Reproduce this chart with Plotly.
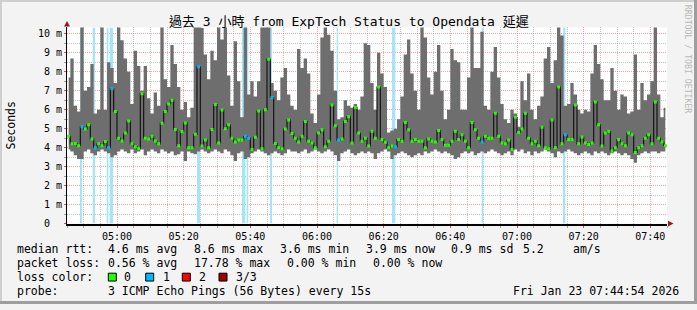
import plotly.graph_objects as go
import pandas as pd

# ---------------- data ----------------
start_time = "2026-01-23 04:45:00"
end_time = "2026-01-23 07:45:00"

# per-minute smoke extent (ms) and median rtt (ms), 04:45 .. 07:44
rtt_max = [
    7.7, 8.7, 6.2, 5.9, 11.0, 7.0, 7.2, 8.4, 5.8, 6.0,
    11.0, 6.0, 8.5, 8.2, 7.4, 11.0, 9.65, 8.7, 8.0, 6.3,
    9.1, 8.3, 7.0, 8.3, 6.6, 5.8, 6.9, 6.2, 11.0, 7.6,
    7.2, 9.4, 8.4, 7.2, 6.0, 6.4, 5.6, 6.1, 11.0, 11.0,
    10.3, 8.9, 7.6, 9.1, 8.6, 11.0, 9.7, 11.0, 7.8, 6.2,
    9.6, 7.5, 5.6, 11.0, 6.8, 7.5, 6.7, 7.5, 11.0, 11.0,
    11.0, 7.4, 7.0, 6.5, 7.7, 8.2, 6.8, 6.2, 6.0, 9.2,
    8.2, 8.7, 7.9, 5.8, 5.3, 6.8, 9.8, 11.0, 9.95, 9.1,
    7.0, 5.5, 5.6, 6.5, 6.2, 6.1, 6.3, 6.0, 6.7, 9.5,
    9.4, 7.4, 6.0, 9.0, 7.9, 7.2, 4.8, 4.9, 5.0, 5.5,
    6.7, 8.9, 9.7, 7.9, 7.0, 6.0, 11.0, 9.8, 7.7, 6.8,
    8.0, 9.4, 7.0, 5.5, 6.0, 9.2, 8.6, 8.5, 6.0, 6.0,
    7.7, 11.0, 8.2, 8.2, 10.1, 6.2, 6.0, 8.0, 9.3, 7.7,
    6.3, 5.5, 5.3, 6.0, 5.8, 5.1, 7.5, 6.5, 7.9, 6.0,
    5.5, 6.2, 6.7, 8.7, 9.3, 7.4, 8.6, 11.0, 9.9, 6.2,
    6.3, 7.4, 6.8, 6.0, 5.8, 6.0, 5.9, 7.9, 9.4, 8.4,
    7.6, 6.5, 6.5, 8.2, 7.0, 6.0, 6.8, 6.7, 5.8, 5.9,
    8.9, 6.0, 7.4, 6.5, 6.8, 7.5, 11.0, 6.8, 5.6, 6.1,
]
rtt_min = [
    3.9, 3.8, 3.6, 3.4, 3.4, 3.8, 3.9, 3.7, 3.6, 3.8,
    3.9, 3.8, 3.7, 3.5, 3.6, 3.8, 3.9, 3.8, 3.7, 3.9,
    3.7, 3.8, 3.9, 3.6, 3.8, 3.9, 3.8, 3.7, 3.9, 3.8,
    3.7, 3.8, 3.6, 3.65, 3.8, 3.3, 3.8, 3.7, 3.65, 3.8,
    3.9, 3.8, 3.7, 3.8, 3.9, 3.8, 3.7, 3.9, 3.8, 3.6,
    3.3, 3.7, 3.8, 3.4, 3.5, 3.7, 3.8, 3.9, 3.8, 3.7,
    3.6, 3.7, 3.8, 3.7, 3.6, 3.7, 3.9, 3.8, 3.8, 3.7,
    3.8, 3.9, 3.7, 3.8, 3.9, 3.8, 3.7, 3.8, 3.9, 3.8,
    3.6, 3.3, 3.7, 3.8, 3.9, 3.7, 3.6, 3.7, 3.8, 3.7,
    3.8, 3.7, 3.4, 3.7, 3.8, 3.9, 3.8, 3.4, 3.6, 3.7,
    3.8, 3.7, 3.6, 3.5, 3.6, 3.7, 3.6, 3.8, 3.7, 3.8,
    3.9, 3.8, 3.7, 3.8, 3.7, 3.6, 3.4, 3.5, 3.7, 3.8,
    3.7, 3.8, 3.6, 3.7, 3.8, 3.7, 3.8, 3.9, 3.8, 3.7,
    3.6, 3.7, 3.8, 3.6, 3.9, 3.8, 3.9, 3.7, 3.8, 3.6,
    3.8, 3.7, 3.8, 3.9, 3.8, 3.7, 3.5, 3.8, 3.7, 3.8,
    3.9, 3.8, 3.7, 3.6, 3.7, 3.8, 3.7, 3.6, 3.8, 3.7,
    3.8, 3.7, 3.6, 3.7, 3.8, 3.7, 3.6, 3.7, 3.6, 3.4,
    3.2, 3.6, 3.7, 3.8, 3.7, 3.8, 3.8, 3.7, 3.8, 3.8,
]
rtt_median = [
    4.6, 4.2, 4.22, 4.1, 5.1, 4.98, 5.2, 4.46, 4.0, 4.2,
    4.1, 4.32, 4.0, 7.1, 5.9, 4.5, 4.35, 4.77, 5.4, 4.2,
    4.05, 3.95, 6.84, 4.5, 4.46, 4.6, 4.35, 4.2, 5.29, 5.9,
    6.3, 6.5, 4.95, 4.1, 4.85, 5.3, 4.0, 4.0, 4.7, 8.26,
    4.08, 4.4, 4.0, 4.95, 6.27, 4.25, 5.98, 5.0, 5.2, 4.5,
    4.3, 4.4, 4.4, 4.6, 4.5, 3.9, 4.55, 5.93, 3.94, 6.0,
    8.66, 6.64, 4.22, 4.0, 3.94, 4.98, 5.46, 4.75, 4.5, 4.3,
    4.6, 5.38, 4.34, 4.25, 4.0, 4.77, 4.94, 4.05, 4.34, 6.24,
    5.15, 4.4, 4.46, 5.38, 5.63, 4.25, 6.12, 4.77, 4.34, 4.5,
    4.08, 4.86, 4.5, 7.19, 4.43, 4.29, 4.0, 4.08, 4.05, 4.43,
    4.34, 5.32, 4.94, 4.34, 4.43, 4.34, 4.34, 4.0, 4.46, 4.34,
    4.3, 4.9, 4.43, 4.12, 4.12, 4.34, 4.86, 4.43, 4.68, 4.34,
    4.0, 5.32, 4.94, 4.5, 4.3, 4.6, 4.5, 4.5, 5.81, 4.6,
    4.25, 4.2, 4.4, 3.9, 5.6, 4.8, 4.98, 5.81, 4.5, 4.2,
    4.34, 4.1, 5.08, 4.0, 3.94, 5.46, 4.0, 7.19, 4.2, 4.68,
    4.43, 4.43, 6.24, 4.2, 4.56, 4.25, 4.17, 4.25, 6.41, 5.2,
    4.08, 4.77, 4.86, 3.82, 4.0, 4.43, 4.2, 4.1, 4.77, 4.68,
    3.75, 4.0, 4.1, 4.5, 4.68, 4.2, 6.4, 4.5, 4.3, 4.1,
]

# packet loss events: start time, duration (s), lost pings
loss_start = ["04:48:54", "04:52:42", "04:56:54", "04:57:48", "05:24:00", "05:37:30",
              "05:38:54", "05:45:54", "06:05:54", "06:22:30", "06:49:24", "07:13:48"]
loss_duration_s = [36, 42, 30, 60, 54, 60, 30, 36, 24, 60, 30, 42]
loss_count = [1, 1, 1, 1, 1, 1, 1, 1, 1, 1, 1, 1]

y_tick_values = [0, 1, 2, 3, 4, 5, 6, 7, 8, 9, 10]
y_tick_labels = ["0\u00a0\u00a0", "1 m", "2 m", "3 m", "4 m", "5 m", "6 m", "7 m", "8 m", "9 m", "10 m"]

title_text = "過去 3 小時 from ExpTech Status to Opendata 延遲"
rtt_stats = ["4.6 ms avg", "8.6 ms max", "3.6 ms min", "3.9 ms now", "0.9 ms sd", "5.2", "am/s"]
loss_stats = ["0.56 % avg", "17.78 % max", "0.00 % min", "0.00 % now"]
loss_color_labels = ["0", "1", "2", "3/3"]
probe_text = "3 ICMP Echo Pings (56 Bytes) every 15s"
stamp_text = "Fri Jan 23 07:44:54 2026"

# ---------------- styling ----------------
W, H = 697, 310
L, R, T, B = 67, 667, 28, 228
MONO = "DejaVu Sans Mono, Noto Sans CJK TC, monospace"
LOSS_COLORS = ["#26ff00", "#00b8ff", "#ff0000", "#a00000"]
LOSS_BG = {1: "#a6e4fa", 2: "#ffa6a6", 3: "#d9a6a6"}
SMOKE = "#6e6e6e"
GRID_MAJOR = "rgba(230,90,90,0.55)"
GRID_MINOR = "rgba(150,150,150,0.55)"
DASH = "1px,1px"
YMAX = 10.33


def fx(p):
    return p / W


def fy(p):
    return 1 - p / H


t0 = pd.Timestamp(start_time)
t1 = pd.Timestamp(end_time)
day = t0.strftime("%Y-%m-%d")
times = [t0 + pd.Timedelta(seconds=30 + 60 * i) for i in range(len(rtt_max))]

ev_start = [pd.Timestamp(f"{day} {s}") for s in loss_start]
ev_end = [s + pd.Timedelta(seconds=d) for s, d in zip(ev_start, loss_duration_s)]

dot_colors = [LOSS_COLORS[0]] * len(rtt_median)
for s, e, c in zip(ev_start, ev_end, loss_count):
    mid = s + (e - s) / 2
    idx = int((mid - t0).total_seconds() // 60)
    if 0 <= idx < len(dot_colors):
        dot_colors[idx] = LOSS_COLORS[c]

fig = go.Figure()

# loss background bands (drawn first, under smoke)
for s, e, c in zip(ev_start, ev_end, loss_count):
    fig.add_trace(go.Scatter(
        x=[s, e, e, s, s], y=[0, 0, YMAX, YMAX, 0], mode="lines", fill="toself",
        fillcolor=LOSS_BG[c], line=dict(width=0), hoverinfo="skip"))

fig.add_trace(go.Scatter(x=times, y=rtt_min, mode="lines",
                         line=dict(width=0, shape="hvh"), hoverinfo="skip"))
fig.add_trace(go.Scatter(x=times, y=rtt_max, mode="lines", fill="tonexty",
                         fillcolor=SMOKE, line=dict(width=0, shape="hvh"), hoverinfo="skip"))
fig.add_trace(go.Scatter(x=times, y=rtt_median, mode="lines",
                         line=dict(color="#151515", width=1.2, shape="hvh")))
fig.add_trace(go.Scatter(x=times, y=rtt_median, mode="markers",
                         marker=dict(symbol="square", size=3, color=dot_colors, line=dict(width=0))))

minor_y = [v + 0.5 for v in y_tick_values[:-1]]

fig.update_layout(
    width=W, height=H, margin=dict(l=0, r=0, t=0, b=0),
    paper_bgcolor="#f3f3f3", plot_bgcolor="#ffffff",
    showlegend=False, font=dict(family=MONO, color="#000000"),
    xaxis=dict(
        type="date", domain=[fx(L), fx(R)], range=[t0, t1], fixedrange=True,
        tick0=f"{day} 05:00", dtick=20 * 60 * 1000, tickformat="%H:%M",
        showgrid=True, gridcolor=GRID_MAJOR, griddash=DASH, gridwidth=1,
        ticks="outside", ticklen=2, tickcolor="#e05050",
        tickfont=dict(family=MONO, size=10, color="#000"),
        showline=True, linecolor="#000000", linewidth=2, zeroline=False,
        minor=dict(dtick=5 * 60 * 1000, tick0=f"{day} 05:00", showgrid=True,
                   gridcolor=GRID_MINOR, griddash=DASH, gridwidth=1,
                   ticks="outside", ticklen=2, tickcolor="#a0a0a0"),
    ),
    yaxis=dict(
        domain=[fy(B), fy(T)], range=[0, YMAX], fixedrange=True,
        tickmode="array", tickvals=y_tick_values, ticktext=y_tick_labels,
        showgrid=True, gridcolor=GRID_MAJOR, griddash=DASH, gridwidth=1,
        ticks="outside", ticklen=2, tickcolor="#e05050",
        tickfont=dict(family=MONO, size=10, color="#000"),
        showline=True, linecolor="#000000", linewidth=1, zeroline=False,
        minor=dict(tickmode="array", tickvals=minor_y, showgrid=True,
                   gridcolor=GRID_MINOR, griddash=DASH, gridwidth=1,
                   ticks="outside", ticklen=2, tickcolor="#a0a0a0"),
    ),
)

shapes = []
# frame shading
shapes.append(dict(type="rect", xref="paper", yref="paper", x0=0, x1=1, y0=fy(2), y1=1,
                   fillcolor="#cfcfcf", line=dict(width=0), layer="above"))
shapes.append(dict(type="rect", xref="paper", yref="paper", x0=0, x1=fx(2), y0=0, y1=1,
                   fillcolor="#cfcfcf", line=dict(width=0), layer="above"))
shapes.append(dict(type="rect", xref="paper", yref="paper", x0=0, x1=1, y0=0, y1=fy(H - 3),
                   fillcolor="#9e9e9e", line=dict(width=0), layer="above"))
shapes.append(dict(type="rect", xref="paper", yref="paper", x0=fx(W - 3), x1=1, y0=0, y1=1,
                   fillcolor="#9e9e9e", line=dict(width=0), layer="above"))

# axis arrows
ARROW = "#9b1b1b"
shapes.append(dict(type="path", xref="paper", yref="paper",
                   path=f"M {fx(64)} {fy(27)} L {fx(70)} {fy(27)} L {fx(67)} {fy(21.5)} Z",
                   fillcolor=ARROW, line=dict(width=0), layer="above"))
shapes.append(dict(type="path", xref="paper", yref="paper",
                   path=f"M {fx(668)} {fy(225)} L {fx(668)} {fy(231)} L {fx(673.5)} {fy(228)} Z",
                   fillcolor=ARROW, line=dict(width=0), layer="above"))

annotations = []


def text(x, y, s, size=11.5, anchor="left", color="#000000", angle=0, family=MONO):
    annotations.append(dict(x=fx(x), y=fy(y), xref="paper", yref="paper", text=s,
                            showarrow=False, xanchor=anchor, yanchor="middle",
                            font=dict(family=family, size=size, color=color),
                            textangle=angle, borderpad=0))


text(348.5, 21.5, title_text, size=13, anchor="center")
text(11, 128, "Seconds", size=11.5, anchor="center", angle=-90)
text(688, 60, "RRDTOOL / TOBI OETIKER", size=8.2, anchor="center", color="#b8b8b8", angle=90)

rows = [254, 268.3, 282.6, 296.8]
text(16, rows[0], "median rtt:")
for s, x in zip(rtt_stats, [107.3, 193.3, 278.5, 365, 450, 521.7, 571.7]):
    text(x, rows[0], s)
text(16, rows[1], "packet loss:")
for s, x in zip(loss_stats, [107.3, 192.7, 286, 372.3]):
    text(x, rows[1], s)
text(16, rows[2], "loss color:")
for s, c, bx, tx in zip(loss_color_labels, LOSS_COLORS, [108.3, 145.7, 182.3, 219],
                        [123.3, 161.7, 198.3, 235]):
    shapes.append(dict(type="rect", xref="paper", yref="paper",
                       x0=fx(bx), x1=fx(bx + 8), y0=fy(rows[2] + 4), y1=fy(rows[2] - 4),
                       fillcolor=c, line=dict(color="#000000", width=1), layer="above"))
    text(tx, rows[2], s)
text(16, rows[3], "probe:")
text(107.3, rows[3], probe_text)
text(680, rows[3], stamp_text, anchor="right")

fig.update_layout(shapes=shapes, annotations=annotations)
fig.write_html("out.html")
